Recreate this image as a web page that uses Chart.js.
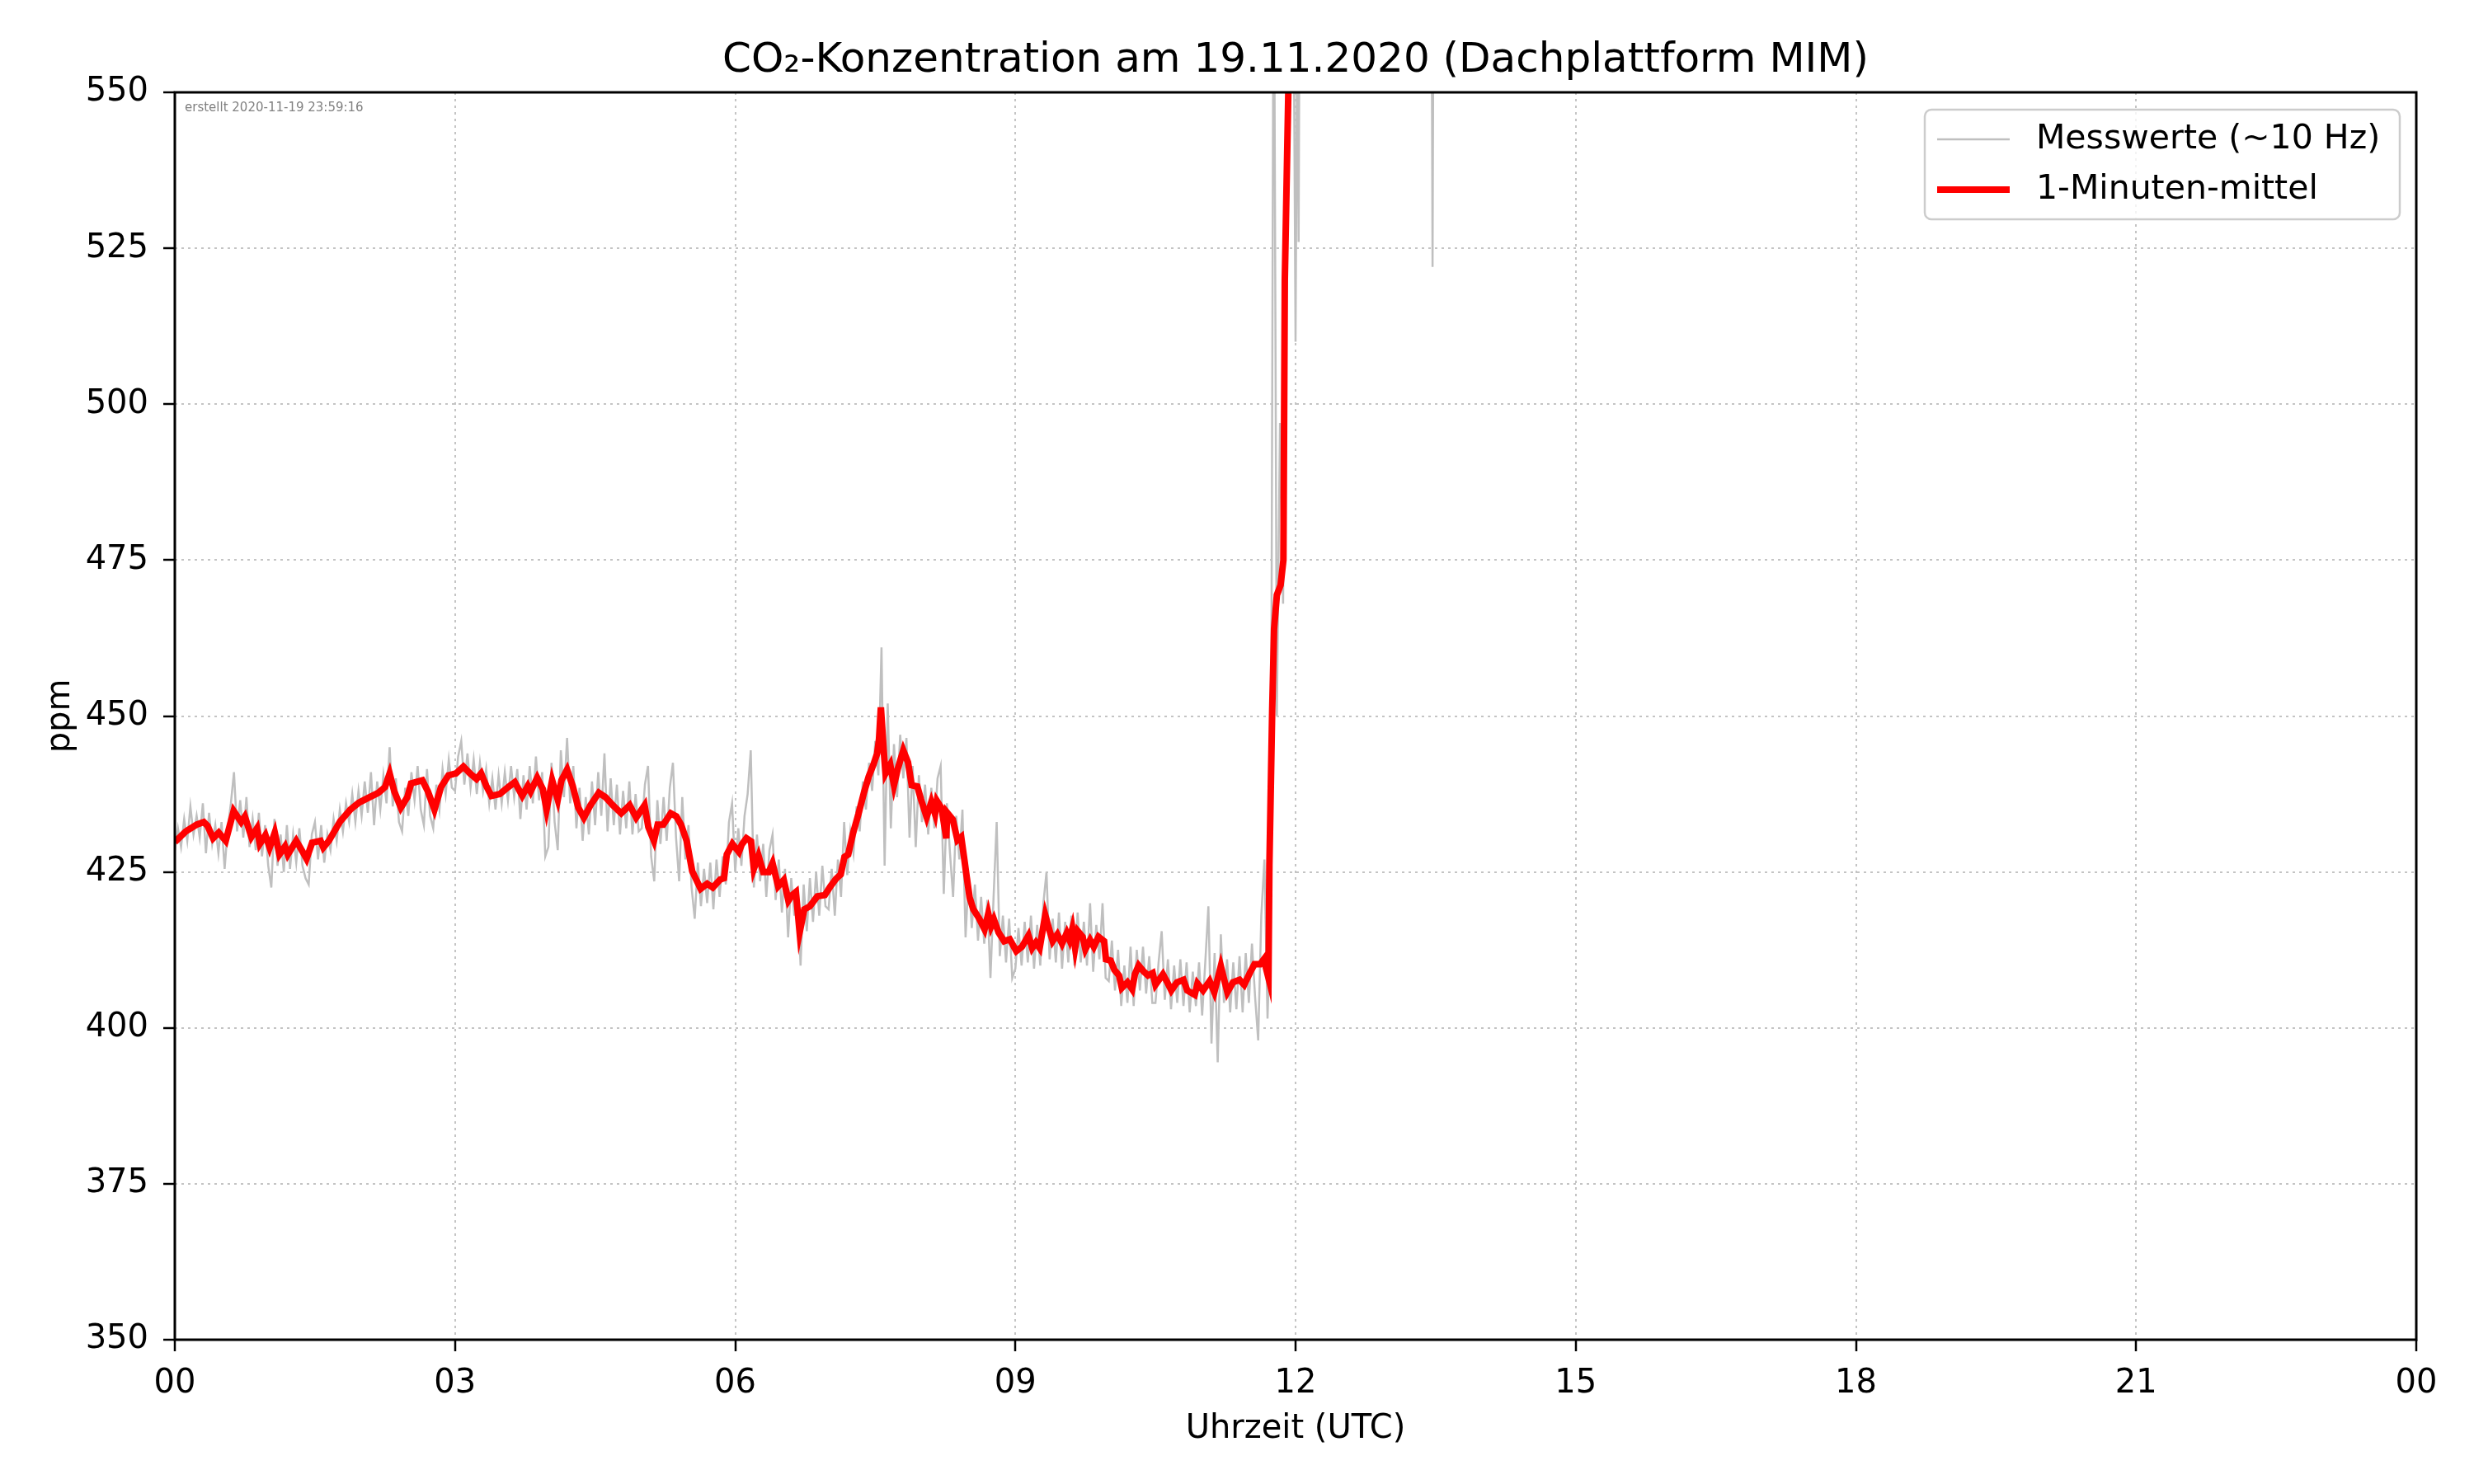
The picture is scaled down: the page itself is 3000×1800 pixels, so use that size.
<!DOCTYPE html>
<html lang="de">
<head>
<meta charset="utf-8">
<title>CO2-Konzentration am 19.11.2020</title>
<script src="https://cdn.jsdelivr.net/npm/chart.js@4.4.1/dist/chart.umd.min.js"></script>
<style>
  html, body { margin: 0; padding: 0; background: #fff; }
  canvas { display: block; }
</style>
</head>
<body>
<canvas id="chart" width="3000" height="1800"></canvas>
<script>
// Achsen
const hourTicks = ["00", "03", "06", "09", "12", "15", "18", "21", "00"];
const createdLabel = "erstellt 2020-11-19 23:59:16";

const rawH00 = [428.5, 432.0, 429.0, 433.5, 430.0, 435.5, 431.0, 434.0, 430.5, 436.0, 428.0, 434.5, 429.5, 432.5, 428.0, 433.0, 425.5, 432.0, 436.0, 441.0, 431.5, 436.5, 430.5, 437.0, 429.0, 433.5, 428.5, 434.5, 427.5, 432.5];
const rawH01 = [426.0, 422.5, 433.5, 426.0, 431.0, 425.0, 432.5, 425.5, 431.0, 426.5, 432.0, 426.0, 424.0, 423.0, 431.0, 433.0, 427.0, 432.5, 426.5, 431.0, 428.5, 433.5, 430.0, 435.0, 431.5, 436.0, 433.0, 437.5, 433.0, 438.0];
const rawH02 = [434.0, 439.5, 434.5, 441.0, 432.5, 439.5, 435.0, 440.5, 436.0, 445.0, 435.5, 440.0, 433.0, 431.5, 438.5, 434.0, 441.0, 436.5, 442.0, 435.0, 432.5, 441.5, 434.0, 432.0, 439.0, 435.0, 441.5, 437.5, 443.0, 438.5];
const rawH03 = [438.0, 443.5, 446.0, 439.0, 444.0, 438.5, 443.0, 437.5, 442.5, 438.0, 441.5, 436.0, 440.0, 435.0, 440.5, 436.0, 441.0, 436.5, 442.0, 437.0, 441.5, 433.5, 440.5, 435.0, 442.0, 436.0, 443.5, 436.5, 441.0, 427.5];
const rawH04 = [429.0, 442.5, 433.0, 428.5, 444.5, 437.0, 446.5, 436.0, 442.0, 432.0, 438.5, 430.0, 437.0, 431.0, 439.5, 432.5, 441.0, 434.0, 444.0, 431.5, 440.0, 432.5, 439.0, 431.0, 438.0, 432.0, 439.5, 431.0, 437.5, 431.5];
const rawH05 = [432.0, 439.0, 442.0, 427.5, 423.5, 436.5, 429.5, 437.0, 430.0, 438.5, 442.5, 430.5, 423.5, 437.0, 427.0, 432.5, 422.5, 417.5, 426.5, 419.5, 425.5, 420.0, 426.5, 419.0, 427.0, 421.0, 427.5, 423.0, 433.0, 436.0];
const rawH06 = [425.0, 432.0, 426.0, 434.0, 437.5, 444.5, 422.5, 431.0, 423.5, 429.5, 421.0, 428.5, 431.0, 420.5, 427.0, 418.5, 425.5, 414.5, 424.0, 418.0, 422.5, 410.0, 423.0, 415.5, 424.0, 417.0, 425.0, 418.0, 426.0, 419.5];
const rawH07 = [419.0, 425.5, 418.0, 427.0, 421.0, 433.0, 424.5, 431.5, 428.0, 435.5, 431.5, 439.5, 435.0, 442.5, 438.0, 446.0, 440.5, 461.0, 426.0, 452.0, 432.0, 445.5, 437.0, 447.0, 440.0, 446.5, 430.5, 442.0, 429.0, 440.5];
const rawH08 = [433.0, 439.0, 431.0, 438.5, 432.0, 440.0, 442.0, 421.5, 436.0, 428.0, 421.0, 434.0, 427.0, 435.0, 414.5, 424.5, 416.0, 423.0, 414.0, 421.0, 413.5, 420.5, 408.0, 421.0, 433.0, 411.5, 418.0, 410.5, 417.5, 408.0];
const rawH09 = [409.5, 416.0, 410.0, 417.0, 410.5, 418.0, 409.5, 416.5, 410.0, 420.0, 425.0, 411.0, 417.5, 410.5, 418.5, 409.5, 417.0, 410.5, 418.0, 410.0, 418.5, 410.5, 417.0, 410.0, 420.0, 409.0, 416.5, 411.0, 420.0, 408.0];
const rawH10 = [407.5, 414.0, 406.0, 412.5, 403.5, 410.0, 404.0, 413.0, 403.5, 412.5, 406.0, 413.0, 405.5, 411.5, 404.0, 404.0, 410.5, 415.5, 404.5, 411.0, 403.0, 410.0, 404.0, 411.0, 403.5, 410.5, 402.5, 409.0, 403.5, 410.5];
const rawH11 = [402.0, 410.5, 419.5, 397.5, 412.0, 394.5, 415.0, 404.0, 411.0, 402.5, 410.5, 403.0, 411.5, 402.5, 412.0, 404.0, 413.5, 405.0, 398.0, 418.0, 427.0, 401.5, 418.0, 585.0, 450.0, 497.0, 468.0, 530.0, 578.0, 600.0];
const rawHours = [rawH00, rawH01, rawH02, rawH03, rawH04, rawH05, rawH06, rawH07, rawH08, rawH09, rawH10, rawH11];

// Messwerte nach 12 UTC (fast alles oberhalb der Skala)
const rawLateTimes = [12.0, 12.017, 12.033, 12.05, 13.45, 13.467, 13.483, 24.0];
const rawLateValues = [510, 560, 526, 600, 600, 522, 600, 600];

// 1-Minuten-Mittel
const meanTimes = [
  0.000, 0.118, 0.235, 0.310, 0.350, 0.410, 0.470, 0.545, 0.630, 0.710, 0.750, 0.820, 0.880, 0.910, 0.970,
  1.015, 1.070, 1.120, 1.180, 1.210, 1.300, 1.370, 1.410, 1.470, 1.560, 1.590, 1.650, 1.770, 1.880, 1.970,
  2.060, 2.180, 2.250, 2.300, 2.350, 2.420, 2.490, 2.530, 2.650, 2.710, 2.780, 2.850, 2.930,
  3.010, 3.090, 3.160, 3.230, 3.280, 3.335, 3.390, 3.480, 3.570, 3.640, 3.720, 3.780, 3.810, 3.880, 3.940, 3.980,
  4.040, 4.100, 4.140, 4.200, 4.260, 4.320, 4.380, 4.450, 4.540, 4.610, 4.690, 4.780, 4.870, 4.940,
  5.030, 5.070, 5.130, 5.170, 5.230, 5.310, 5.370, 5.420, 5.480, 5.540, 5.630, 5.700, 5.760, 5.840, 5.880, 5.910, 5.970,
  6.040, 6.070, 6.120, 6.170, 6.200, 6.250, 6.300, 6.360, 6.400, 6.460, 6.520, 6.570, 6.610, 6.650, 6.690, 6.740, 6.800, 6.880, 6.960,
  7.020, 7.080, 7.130, 7.170, 7.210, 7.260, 7.320, 7.380, 7.430, 7.480, 7.520, 7.540, 7.560, 7.590, 7.610, 7.660, 7.700, 7.740, 7.800, 7.850, 7.890, 7.950, 7.990,
  8.050, 8.100, 8.140, 8.160, 8.210, 8.260, 8.270, 8.330, 8.380, 8.420, 8.450, 8.480, 8.510, 8.550, 8.610, 8.670, 8.710, 8.740, 8.770, 8.820, 8.880, 8.940,
  9.010, 9.070, 9.140, 9.180, 9.220, 9.260, 9.320, 9.360, 9.400, 9.450, 9.500, 9.550, 9.580, 9.610, 9.640, 9.670, 9.720, 9.750, 9.800, 9.840, 9.890, 9.950, 9.970,
  10.020, 10.060, 10.110, 10.140, 10.200, 10.250, 10.280, 10.320, 10.370, 10.420, 10.470, 10.500, 10.580, 10.620, 10.670, 10.730, 10.800, 10.840, 10.920, 10.950,
  11.010, 11.080, 11.130, 11.200, 11.270, 11.330, 11.400, 11.450, 11.510, 11.560, 11.620, 11.660, 11.710, 11.720, 11.750, 11.770, 11.800, 11.840, 11.870, 11.885, 11.925, 11.950,
  23.990
];
const meanValues = [
  429.8, 431.5, 432.6, 433.0, 432.4, 430.4, 431.3, 430.0, 434.8, 433.0, 433.9, 430.6, 432.0, 429.5, 430.9,
  428.9, 431.3, 427.8, 429.1, 427.8, 430.0, 428.2, 427.1, 429.7, 430.0, 428.9, 430.0, 433.1, 435.0, 436.1,
  436.8, 437.7, 438.6, 440.8, 437.9, 435.3, 437.0, 439.2, 439.7, 437.9, 435.0, 438.6, 440.5,
  440.8, 441.9, 440.8, 439.9, 440.8, 438.8, 437.2, 437.5, 438.6, 439.4, 437.2, 438.8, 437.9, 440.1, 438.3, 435.0,
  439.7, 436.6, 439.7, 441.4, 438.8, 435.3, 433.7, 435.7, 437.7, 437.0, 435.7, 434.4, 435.7, 433.7,
  435.7, 432.2, 430.0, 432.6, 432.6, 434.4, 433.9, 432.6, 430.0, 425.1, 422.3, 423.1, 422.5, 423.8, 424.0, 427.8, 429.5,
  428.2, 429.4, 430.4, 429.9, 425.5, 427.6, 425.0, 425.0, 426.4, 422.7, 423.7, 420.4, 421.3, 421.8, 415.3, 419.0, 419.5, 421.1, 421.3,
  422.7, 423.9, 424.6, 427.4, 427.8, 431.1, 434.3, 437.8, 440.3, 442.2, 444.0, 446.3, 451.4, 444.5, 440.8, 442.2, 438.9, 441.5, 444.5, 442.6, 438.9, 438.7, 436.6,
  433.8, 436.2, 434.3, 436.4, 435.2, 430.4, 434.5, 433.4, 430.1, 430.6, 427.4, 424.1, 420.9, 419.0, 417.6, 415.8, 418.3, 416.3, 417.4, 415.3, 413.9, 414.2,
  412.3, 413.0, 414.8, 412.8, 413.7, 412.8, 418.1, 415.9, 413.9, 415.0, 413.5, 415.2, 414.1, 415.9, 412.8, 415.5, 414.6, 412.6, 414.1, 413.0, 414.6, 413.9, 411.0,
  410.8, 409.3, 408.4, 406.4, 407.3, 406.2, 408.6, 410.0, 409.1, 408.4, 408.8, 406.9, 408.6, 407.5, 406.0, 407.3, 407.7, 406.0, 405.3, 407.1,
  406.0, 407.5, 405.7, 409.9, 405.7, 407.3, 407.7, 406.9, 408.8, 410.2, 410.2, 411.0, 408.0, 426.0, 451.0, 464.0, 469.4, 471.0, 475.0, 520.0, 552.0, 600.0,
  600.0
];

const FONT = "'DejaVu Sans', sans-serif";
Chart.defaults.font.family = FONT;
Chart.defaults.color = "#000";

// Messwerte als Punkte (2-Minuten-Raster pro Stunde + Rest)
const rawPoints = [];
rawHours.forEach((row, hour) => {
  row.forEach((v, i) => rawPoints.push({ x: hour + i / 30, y: v }));
});
rawLateTimes.forEach((t, i) => rawPoints.push({ x: t, y: rawLateValues[i] }));

const meanPoints = meanTimes.map((t, i) => ({ x: t, y: meanValues[i] }));

// Rahmen um den Plotbereich + Zeitstempel
const framePlugin = {
  id: "frame",
  afterDatasetsDraw(chart) {
    const { ctx, chartArea: a } = chart;
    ctx.save();
    ctx.strokeStyle = "#000";
    ctx.lineWidth = 3;
    ctx.strokeRect(a.left, a.top, a.right - a.left, a.bottom - a.top);
    ctx.fillStyle = "#808080";
    ctx.font = `15px ${FONT}`;
    ctx.textBaseline = "middle";
    ctx.fillText(createdLabel, a.left + 12, a.top + 19);
    ctx.restore();
  },
};

// Legende oben rechts im Plotbereich, mit Kasten wie im Original
const boxLegend = {
  id: "boxLegend",
  afterDraw(chart) {
    const { ctx, chartArea: a } = chart;
    const x = a.right - 596;
    const y = a.top + 21;
    ctx.save();
    ctx.beginPath();
    ctx.roundRect(x, y, 576, 133, 8);
    ctx.fillStyle = "rgba(255,255,255,0.8)";
    ctx.fill();
    ctx.strokeStyle = "#cccccc";
    ctx.lineWidth = 2.5;
    ctx.stroke();
    ctx.font = `41px ${FONT}`;
    ctx.textBaseline = "middle";
    chart.data.datasets.forEach((ds, i) => {
      const cy = y + 36 + i * 61;
      ctx.beginPath();
      ctx.moveTo(x + 15, cy);
      ctx.lineTo(x + 103, cy);
      ctx.strokeStyle = ds.borderColor;
      ctx.lineWidth = ds.borderWidth;
      ctx.stroke();
      ctx.fillStyle = "#000";
      ctx.fillText(ds.label, x + 135, cy);
    });
    ctx.restore();
  },
};

const gridOpts = {
  color: "#c4c4c4",
  lineWidth: 2,
  drawTicks: true,
  tickLength: 14,
  tickColor: "#000",
  tickWidth: 2.5,
};

new Chart(document.getElementById("chart"), {
  type: "line",
  data: {
    datasets: [
      {
        label: "Messwerte (~10 Hz)",
        data: rawPoints,
        borderColor: "#bfbfbf",
        borderWidth: 2.5,
        pointRadius: 0,
        tension: 0,
        clip: 0,
        order: 2,
      },
      {
        label: "1-Minuten-mittel",
        data: meanPoints,
        borderColor: "#ff0000",
        borderWidth: 8,
        pointRadius: 0,
        tension: 0,
        clip: 0,
        order: 1,
      },
    ],
  },
  options: {
    responsive: false,
    devicePixelRatio: 1,
    animation: false,
    events: [],
    layout: { padding: { left: 0, right: 70, top: 0, bottom: 0 } },
    plugins: {
      legend: { display: false },
      tooltip: { enabled: false },
      title: {
        display: true,
        fullSize: false,
        text: "CO₂-Konzentration am 19.11.2020 (Dachplattform MIM)",
        font: { size: 50, weight: "normal", family: FONT },
        color: "#000",
        padding: { top: 44, bottom: 8 },
      },
    },
    scales: {
      x: {
        type: "linear",
        min: 0,
        max: 24,
        afterFit: (s) => { s.height = 175; },
        ticks: {
          stepSize: 3,
          autoSkip: false,
          maxRotation: 0,
          padding: 16,
          font: { size: 40 },
          callback: (v, i) => hourTicks[i],
        },
        grid: gridOpts,
        border: { display: false, dash: [3, 5] },
        title: {
          display: true,
          text: "Uhrzeit (UTC)",
          font: { size: 40 },
          padding: { top: 0, bottom: 42 },
        },
      },
      y: {
        min: 350,
        max: 550,
        afterFit: (s) => { s.width = 212; },
        ticks: {
          stepSize: 25,
          autoSkip: false,
          padding: 18,
          font: { size: 40 },
        },
        grid: gridOpts,
        border: { display: false, dash: [3, 5] },
        title: {
          display: true,
          text: "ppm",
          font: { size: 40 },
          padding: { top: 50, bottom: 0 },
        },
      },
    },
  },
  plugins: [framePlugin, boxLegend],
});
</script>
</body>
</html>
